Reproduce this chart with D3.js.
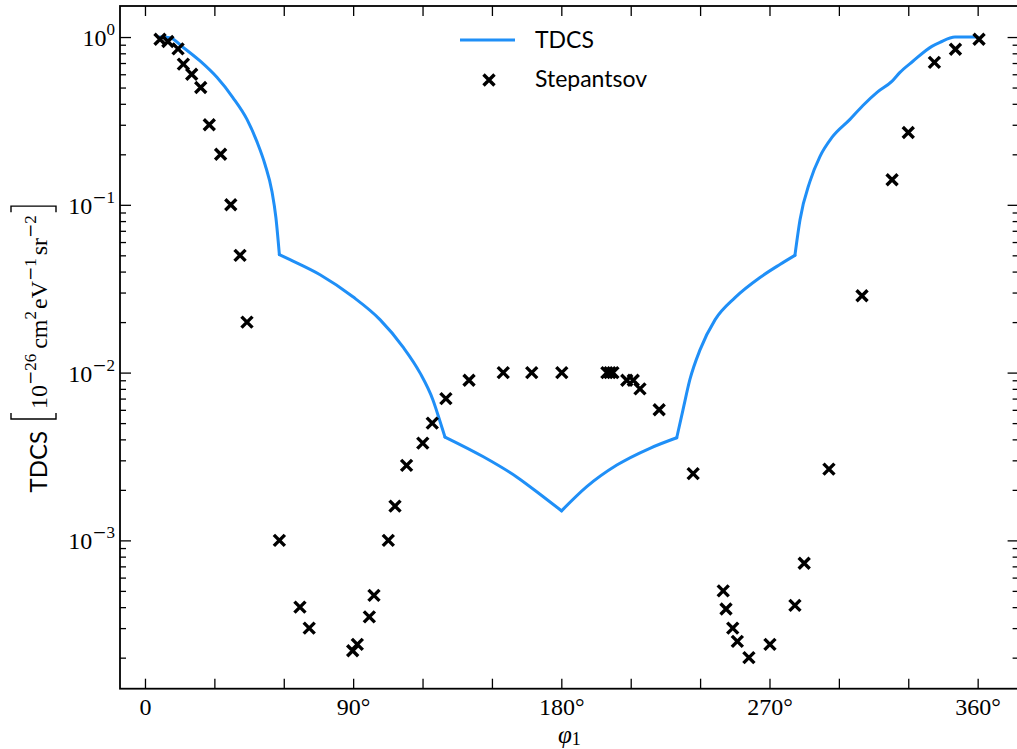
<!DOCTYPE html>
<html>
<head>
<meta charset="utf-8">
<script src="https://cdn.jsdelivr.net/npm/d3@7"></script>
<style>
  html, body { margin: 0; padding: 0; background: #fff; }
  svg { display: block; }
  .axis path, .axis line { stroke: #000; }
  .axis text { font-family: "Liberation Serif", serif; font-size: 24px; fill: #000; }
</style>
</head>
<body>
<div id="chart"></div>
<script>
// TDCS model curve, split into its smooth pieces (cusps are shared end points)
const tdcsAngle = [
  [6.5, 10.8, 16.4, 23.8, 31.1, 38.0, 44.1, 48.4, 51.9, 54.9, 56.6, 58.1],
  [58.1, 62.7, 75.7, 89.9, 101.6, 111.5, 118.9, 124.5, 127.5, 129.7],
  [129.7, 146.3, 160.7, 172.2, 180.1],
  [180.1, 191, 204, 218.3, 229.9],
  [229.9, 232.6, 235.6, 240, 246.5, 255.1, 265.9, 274.5, 281],
  [281, 283.2, 287.5, 291.8, 297.0, 304.8, 310.4, 316.5, 322.9, 326.4, 332, 340.2, 343.7, 350.2, 360.1]
];
const tdcsValue = [
  [1.0, 0.99, 0.87, 0.72, 0.575, 0.436, 0.323, 0.238, 0.174, 0.12, 0.084, 0.0505],
  [0.0505, 0.0471, 0.0383, 0.0283, 0.0207, 0.01425, 0.00996, 0.00687, 0.00515, 0.00413],
  [0.00413, 0.00315, 0.00239, 0.00182, 0.0015],
  [0.0015, 0.00209, 0.00281, 0.00354, 0.00409],
  [0.00409, 0.006, 0.0091, 0.0137, 0.0207, 0.028, 0.0369, 0.0441, 0.05],
  [0.05, 0.0815, 0.138, 0.194, 0.252, 0.323, 0.391, 0.468, 0.544, 0.616, 0.717, 0.88, 0.93, 1.0, 1.0]
];

// Stepantsov measurements
const expAngle = [6.5, 9.9, 14.3, 16.6, 20.2, 24.1, 27.8, 32.7, 37.1, 41.1, 44.1,
  58.1, 67.0, 71.0, 89.8, 91.8, 97.0, 99.0, 105.2, 108.1, 113.1, 120.1, 124.2, 130.1, 140.1,
  154.9, 167.2, 180.2, 199.7, 201, 202.3, 208.3, 211.1, 214, 222.3, 237.0,
  250.0, 251.2, 254.1, 256.1, 261.1, 270.2, 281.0, 285.0, 295.7,
  310.0, 323.0, 330.0, 341.3, 350.4, 360.6];
const expValue = [0.97, 0.94, 0.85, 0.69, 0.60, 0.50, 0.30, 0.20, 0.10, 0.050, 0.020,
  1.0e-3, 4.0e-4, 3.0e-4, 2.2e-4, 2.4e-4, 3.5e-4, 4.7e-4, 1.0e-3, 1.6e-3, 2.8e-3, 3.8e-3, 5.0e-3, 7.0e-3, 9.0e-3,
  1e-2, 1e-2, 1e-2, 1e-2, 1e-2, 1e-2, 9e-3, 9e-3, 8e-3, 6e-3, 2.5e-3,
  5.0e-4, 3.9e-4, 3.0e-4, 2.5e-4, 2.0e-4, 2.4e-4, 4.1e-4, 7.3e-4, 2.66e-3,
  0.0287, 0.141, 0.27, 0.706, 0.845, 0.97];

const xTicks = [0, 30, 60, 90, 120, 150, 180, 210, 240, 270, 300, 330, 360];
const xLabelTicks = [0, 90, 180, 270, 360];
const yMajorTicks = [1e-3, 1e-2, 1e-1, 1];
const yTickExp = ["−3", "−2", "−1", "0"];

const tdcsPieces = tdcsAngle.map((arr, k) => arr.map((a, i) => ({ angle: a, value: tdcsValue[k][i] })));
const exp = expAngle.map((a, i) => ({ angle: a, value: expValue[i] }));

const W = 1017, H = 749;
const margin = { top: 6, left: 120 };
const plotW = 898.6, plotH = 682.7;
const blue = "#1f8ff7";
const sans = "Lato, 'Open Sans', sans-serif";
const serif = "'Liberation Serif', serif";
const minusFont = "'DejaVu Serif', serif";

const svg = d3.select("#chart").append("svg")
  .attr("width", W).attr("height", H);

const x = d3.scaleLinear().domain([-10.8, 377.7]).range([0, plotW]);
const y = d3.scaleLog().domain([Math.pow(10, -3.884), Math.pow(10, 0.185)]).range([plotH, 0]);

const g = svg.append("g").attr("transform", `translate(${margin.left},${margin.top})`);

const yMinor = y.ticks().filter(v => !yMajorTicks.some(m => Math.abs(m - v) / m < 1e-6));

// data
const line = d3.line().x(d => x(d.angle)).y(d => y(d.value)).curve(d3.curveMonotoneX);
g.append("g").selectAll("path")
  .data(tdcsPieces)
  .join("path")
  .attr("fill", "none")
  .attr("stroke", blue)
  .attr("stroke-width", 3)
  .attr("stroke-linejoin", "round")
  .attr("stroke-linecap", "round")
  .attr("d", line);

const xMark = "M-5.5,-5.5L5.5,5.5M-5.5,5.5L5.5,-5.5";
g.append("g").selectAll("path")
  .data(exp)
  .join("path")
  .attr("transform", d => `translate(${x(d.angle)},${y(d.value)})`)
  .attr("d", xMark)
  .attr("stroke", "#000")
  .attr("stroke-width", 3.4)
  .attr("fill", "none");

// axes (ticks pointing in)
const styleAxis = sel => {
  sel.select(".domain").remove();
  sel.selectAll(".tick line").attr("stroke-width", 1.3);
};

g.append("g").attr("class", "axis")
  .attr("transform", `translate(0,${plotH})`)
  .call(d3.axisBottom(x).tickValues(xTicks).tickSize(-10).tickPadding(9)
    .tickFormat(d => xLabelTicks.includes(d) ? (d === 0 ? "0" : d + "°") : ""))
  .call(styleAxis);

g.append("g").attr("class", "axis")
  .call(d3.axisTop(x).tickValues(xTicks).tickSize(-10).tickFormat(""))
  .call(styleAxis);

const yAxisL = g.append("g").attr("class", "axis")
  .call(d3.axisLeft(y).tickValues(yMajorTicks).tickSize(-11).tickPadding(5).tickFormat(""))
  .call(styleAxis);

// superscript helper: wide math minus, then digits
const addSup = (sel, s, size) => {
  if (s[0] === "−") {
    sel.append("tspan").attr("font-family", minusFont).attr("font-size", size + "px").text("−");
    sel.append("tspan").attr("font-size", size + "px").text(s.slice(1));
  } else {
    sel.append("tspan").attr("font-size", size + "px").text(s);
  }
};

yAxisL.selectAll(".tick text").each(function(d, i) {
  const t = d3.select(this).attr("dy", "0.35em");
  t.append("tspan").text("10");
  const sup = t.append("tspan").attr("dy", "-0.45em");
  addSup(sup, yTickExp[i], 17);
});

g.append("g").attr("class", "axis")
  .call(d3.axisLeft(y).tickValues(yMinor).tickSize(-6).tickFormat(""))
  .call(styleAxis);

g.append("g").attr("class", "axis")
  .attr("transform", `translate(${plotW},0)`)
  .call(d3.axisRight(y).tickValues(yMajorTicks).tickSize(-11).tickFormat(""))
  .call(styleAxis);

g.append("g").attr("class", "axis")
  .attr("transform", `translate(${plotW},0)`)
  .call(d3.axisRight(y).tickValues(yMinor).tickSize(-6).tickFormat(""))
  .call(styleAxis);

// frame
g.append("rect")
  .attr("width", plotW).attr("height", plotH)
  .attr("fill", "none").attr("stroke", "#000").attr("stroke-width", 1.8);

// x label
const xl = svg.append("text")
  .attr("x", margin.left + plotW / 2).attr("y", 742.5)
  .attr("text-anchor", "middle")
  .attr("font-family", serif).attr("font-size", "25px");
xl.append("tspan").attr("font-style", "italic").text("φ");
xl.append("tspan").attr("dy", "0.15em").attr("font-size", "18px").text("1");

// y label, built piece by piece in a rotated group, then centred on the axes
const yl = svg.append("g");
let cx = 0;
const piece = (txt, opts) => {
  const t = yl.append("text")
    .attr("x", cx).attr("y", opts.dy || 0)
    .attr("font-family", opts.family || serif)
    .attr("font-size", opts.size + "px");
  if (opts.sup) addSup(t, txt, opts.size); else t.text(txt);
  cx += t.node().getComputedTextLength() + (opts.gap || 0);
};
const bracket = (dir) => {
  const w = 6, top = -36, bot = 9;
  const x0 = cx;
  const p = dir === "[" ?
    `M${x0 + w},${top}L${x0},${top}L${x0},${bot}L${x0 + w},${bot}` :
    `M${x0},${top}L${x0 + w},${top}L${x0 + w},${bot}L${x0},${bot}`;
  yl.append("path").attr("d", p).attr("fill", "none").attr("stroke", "#000").attr("stroke-width", 1.4);
  cx += w + 4;
};
piece("TDCS", { family: sans, size: 24, gap: 12 });
bracket("[");
piece("10", { size: 24 });
piece("−26", { size: 17, dy: -11, gap: 5, sup: true });
piece("cm", { size: 24 });
piece("2", { size: 17, dy: -11, gap: 2 });
piece("eV", { size: 24 });
piece("−1", { size: 17, dy: -11, gap: 3, sup: true });
piece("sr", { size: 24 });
piece("−2", { size: 17, dy: -11, gap: 3, sup: true });
bracket("]");
yl.attr("transform", `translate(47,${margin.top + plotH / 2 + cx / 2}) rotate(-90)`);

// legend
const lg = svg.append("g").attr("font-family", sans).attr("font-size", "23px");
lg.append("line").attr("x1", 460).attr("x2", 515).attr("y1", 40).attr("y2", 40)
  .attr("stroke", blue).attr("stroke-width", 3);
lg.append("text").attr("x", 535).attr("y", 48).text("TDCS");
lg.append("path").attr("transform", "translate(489,80)").attr("d", xMark)
  .attr("stroke", "#000").attr("stroke-width", 3.4).attr("fill", "none");
lg.append("text").attr("x", 535).attr("y", 87).text("Stepantsov");
</script>
</body>
</html>
